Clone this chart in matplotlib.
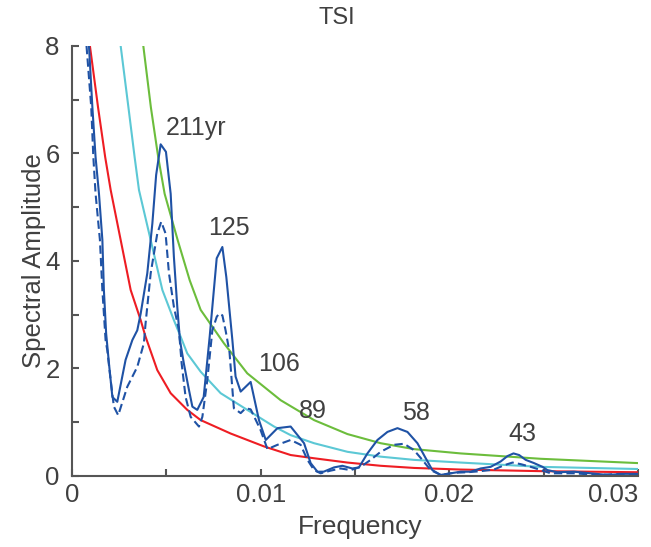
import matplotlib
matplotlib.use("Agg")
import matplotlib.pyplot as plt

plt.rcParams['font.family'] = ['Liberation Sans', 'DejaVu Sans']

# spectrum (solid) and its lower estimate (dashed)
f_solid = [0.00090, 0.00108, 0.00125, 0.00143, 0.00161, 0.00169, 0.00181, 0.00196, 0.00214,
           0.00240, 0.00284, 0.00320, 0.00346, 0.00364, 0.00399, 0.00426, 0.00446, 0.00470,
           0.00498, 0.00523, 0.00540, 0.00558, 0.00572, 0.00593, 0.00620, 0.00638, 0.00664,
           0.00698, 0.00730, 0.00767, 0.00797, 0.00818, 0.00850, 0.00867, 0.00894, 0.00947,
           0.00991, 0.01027, 0.01089, 0.01159, 0.01230, 0.01265, 0.01301, 0.01334, 0.01389,
           0.01433, 0.01486, 0.01521, 0.01566, 0.01619, 0.01672, 0.01725, 0.01778, 0.01831,
           0.01875, 0.01910, 0.01954, 0.02007, 0.02060, 0.02113, 0.02166, 0.02219, 0.02272,
           0.02308, 0.02340, 0.02370, 0.02405, 0.02449, 0.02494, 0.02520, 0.02573, 0.02661,
           0.02750, 0.02838, 0.02925, 0.03000]
a_solid = [8.0, 6.86, 5.93, 5.25, 4.39, 3.46, 2.65, 2.09, 1.47,
           1.38, 2.16, 2.53, 2.71, 3.02, 3.77, 4.70, 5.60, 6.17,
           6.03, 5.25, 4.08, 3.15, 2.53, 2.09, 1.60, 1.29, 1.23,
           1.47, 2.60, 4.05, 4.26, 3.70, 2.53, 1.85, 1.57, 1.75,
           1.04, 0.67, 0.89, 0.92, 0.61, 0.24, 0.08, 0.08, 0.16,
           0.19, 0.14, 0.16, 0.42, 0.67, 0.82, 0.89, 0.82, 0.61,
           0.33, 0.11, 0.02, 0.05, 0.08, 0.08, 0.14, 0.17, 0.27,
           0.37, 0.42, 0.39, 0.30, 0.24, 0.17, 0.11, 0.07, 0.08,
           0.05, 0.02, 0.04, 0.04]

f_dash = [0.00077, 0.00102, 0.00113, 0.00125, 0.00148, 0.00161, 0.00178, 0.00187, 0.00205,
          0.00222, 0.00245, 0.00293, 0.00346, 0.00381, 0.00390, 0.00417, 0.00452, 0.00473,
          0.00496, 0.00514, 0.00540, 0.00567, 0.00581, 0.00602, 0.00629, 0.00673, 0.00691,
          0.00717, 0.00744, 0.00767, 0.00779, 0.00797, 0.00814, 0.00835, 0.00846, 0.00858,
          0.00894, 0.00920, 0.00947, 0.00999, 0.01036, 0.01089, 0.01159, 0.01212, 0.01248,
          0.01283, 0.01318, 0.01371, 0.01424, 0.01477, 0.01530, 0.01583, 0.01636, 0.01707,
          0.01760, 0.01813, 0.01857, 0.01901, 0.01954, 0.02025, 0.02096, 0.02166, 0.02237,
          0.02290, 0.02335, 0.02379, 0.02432, 0.02485, 0.02538, 0.02661, 0.02785, 0.02909,
          0.03000]
a_dash = [8.0, 6.86, 5.94, 5.25, 4.39, 3.46, 2.53, 2.34, 1.78,
          1.29, 1.13, 1.66, 2.03, 2.47, 2.84, 3.77, 4.51, 4.73,
          4.51, 3.77, 3.15, 2.71, 2.10, 1.47, 1.10, 0.92, 1.10,
          1.78, 2.71, 2.96, 3.02, 2.99, 2.71, 2.30, 1.80, 1.26,
          1.17, 1.26, 1.24, 0.86, 0.50, 0.58, 0.67, 0.58, 0.30,
          0.11, 0.05, 0.10, 0.14, 0.11, 0.17, 0.30, 0.45, 0.58,
          0.60, 0.48, 0.30, 0.11, 0.02, 0.06, 0.07, 0.09, 0.12,
          0.20, 0.25, 0.22, 0.17, 0.11, 0.05, 0.05, 0.02, 0.04,
          0.02]

# background / significance curves
f_red = [0.00095, 0.00138, 0.00176, 0.00205, 0.00258, 0.00311, 0.00364, 0.00390, 0.00452,
         0.00523, 0.00611, 0.00682, 0.00841, 0.01018, 0.01159, 0.01283, 0.01460,
         0.01636, 0.01813, 0.02060, 0.02485, 0.03000]
a_red = [8.0, 6.86, 5.93, 5.32, 4.39, 3.46, 2.90, 2.59, 1.97,
         1.54, 1.23, 1.04, 0.79, 0.55, 0.39, 0.33, 0.25,
         0.19, 0.15, 0.12, 0.09, 0.07]

f_cyan = [0.00258, 0.00299, 0.00332, 0.00355, 0.00417, 0.00479, 0.00540, 0.00576, 0.00611,
          0.00682, 0.00788, 0.00929, 0.01071, 0.01159, 0.01283, 0.01460, 0.01636, 0.01813,
          0.02060, 0.02485, 0.03000]
a_cyan = [8.0, 6.86, 5.93, 5.32, 4.39, 3.46, 2.90, 2.59, 2.28,
          1.94, 1.54, 1.23, 0.92, 0.76, 0.61, 0.45, 0.36, 0.30,
          0.25, 0.17, 0.13]

f_green = [0.00378, 0.00418, 0.00457, 0.00491, 0.00560, 0.00624, 0.00682, 0.00805,
           0.00929, 0.01106, 0.01283, 0.01460, 0.01636, 0.01813, 0.02060, 0.02485, 0.03000]
a_green = [8.0, 6.86, 5.93, 5.25, 4.39, 3.64, 3.09, 2.47,
           1.91, 1.41, 1.04, 0.78, 0.61, 0.50, 0.42, 0.32, 0.24]

peak_labels = ["211yr", "125", "106", "89", "58", "43"]
peak_x = [0.00656, 0.00830, 0.01096, 0.01276, 0.01822, 0.02389]
peak_y = [6.47, 4.61, 2.08, 1.20, 1.17, 0.78]

xticks = [0, 0.005, 0.01, 0.015, 0.02, 0.025, 0.03]
xticklabels = ["0", "", "0.01", "", "0.02", "", "0.03"]
yticks = [0, 1, 2, 3, 4, 5, 6, 7, 8]
yticklabels = ["0", "", "2", "", "4", "", "6", "", "8"]

txt = "#404040"
blue = "#1f52a5"

fig = plt.figure(figsize=(6.51, 5.47), dpi=100)
ax = fig.add_axes([0.1106, 0.1298, 0.8694, 0.7862])

ax.plot(f_red, a_red, color="#ee1d23", lw=1.5)
ax.plot(f_cyan, a_cyan, color="#5cc8d5", lw=1.5)
ax.plot(f_green, a_green, color="#6cbd3c", lw=1.5)
ax.plot(f_dash, a_dash, color=blue, lw=1.5, ls=(0, (4, 2)))
ax.plot(f_solid, a_solid, color=blue, lw=1.5)

for lab, x, y in zip(peak_labels, peak_x, peak_y):
    ax.text(x, y, lab, fontsize=18, color=txt, ha="center", va="center")

ax.set_xlim(0, 0.03)
ax.set_ylim(0, 8)
ax.set_xticks(xticks)
ax.set_xticklabels(xticklabels)
ax.set_yticks(yticks)
ax.set_yticklabels(yticklabels)
ax.get_xticklabels()[-1].set_ha("right")

for s in ["top", "right"]:
    ax.spines[s].set_visible(False)
for s in ["left", "bottom"]:
    ax.spines[s].set_color("#555555")
    ax.spines[s].set_linewidth(1.5)
ax.tick_params(direction="in", length=5, width=1.5, color="#555555",
               labelsize=18.5, labelcolor=txt)
ax.tick_params(axis="y", pad=9)
ax.tick_params(axis="x", pad=5)

ax.set_xlabel("Frequency", fontsize=19, color=txt)
ax.xaxis.set_label_coords(0.509, -0.09)
ax.set_ylabel("Spectral Amplitude", fontsize=18.5, color=txt)
ax.yaxis.set_label_coords(-0.046, 0.5)
fig.text(0.518, 0.967, "TSI", fontsize=17, color=txt, ha="center", va="center")

fig.savefig("out.png", dpi=100)
